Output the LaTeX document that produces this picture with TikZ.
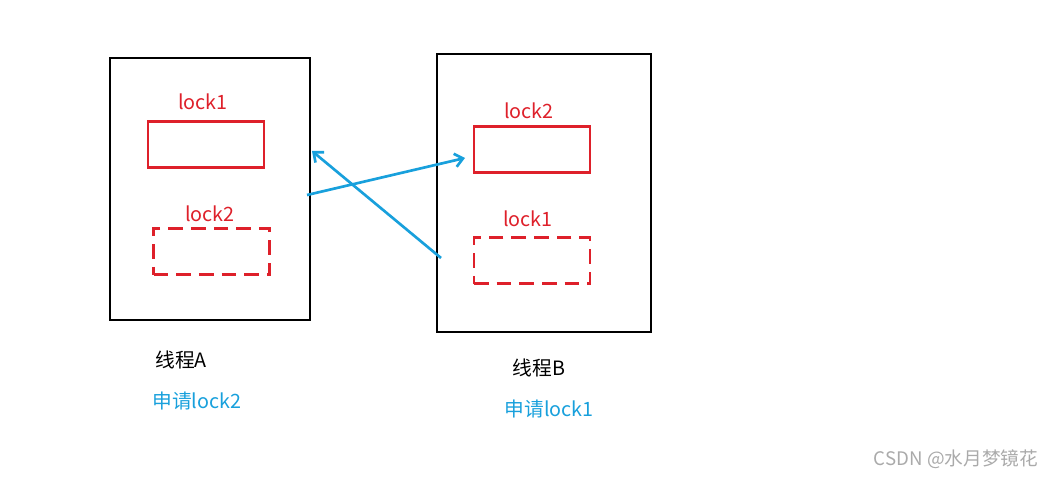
\documentclass[tikz,border=0pt]{standalone}
\usepackage{fontspec}
\setmainfont{Noto Sans CJK SC}
\usetikzlibrary{arrows.meta}
\definecolor{lockred}{RGB}{222,32,42}
\definecolor{arrblue}{RGB}{24,160,220}
\definecolor{wmgray}{RGB}{170,170,170}
\begin{document}
\begin{tikzpicture}[x=0.75pt,y=-0.75pt,
  thread/.style={draw=black,line width=2.1pt,inner sep=0pt},
  lockbox/.style={draw=lockred,line width=2.1pt,minimum width=87pt,minimum height=35pt,inner sep=0pt},
  waitbox/.style={lockbox,dash pattern=on 11pt off 6pt},
  locklbl/.style={text=lockred,font=\fontsize{14.8pt}{17pt}\selectfont,inner sep=0pt},
  thlbl/.style={text=black,font=\fontsize{14.8pt}{17pt}\selectfont,inner sep=0pt},
  reqlbl/.style={text=arrblue,font=\fontsize{14.8pt}{17pt}\selectfont,inner sep=0pt},
  conn/.style={draw=arrblue,line width=2pt,-{Straight Barb[length=6pt,width=10pt,line width=2pt]}}
]
\useasboundingbox (0,0) rectangle (1057,477);
% thread boxes
\draw[thread] (110,58) rectangle (310,320);
\draw[thread] (437,54) rectangle (651,332);
% thread A
\node[locklbl] (la1) at (203,102) {lock1};
\node[lockbox] (a1) at (206,144.5) {};
\node[locklbl] (la2) at (210,214) {lock2};
\node[waitbox] (a2) at (211.5,251.5) {};
% thread B
\node[locklbl] (lb2) at (529,111) {lock2};
\node[lockbox] (b2) at (532,149.5) {};
\node[locklbl] (lb1) at (528,219) {lock1};
\node[waitbox] (b1) at (532,260.5) {};
% arrows
\coordinate (sA) at (307,195);
\coordinate (eA) at (465,158);
\coordinate (sB) at (441,258);
\coordinate (eB) at (312,151);
\draw[conn] (sA) -- (eA);
\draw[conn] (sB) -- (eB);
% labels
\node[thlbl] (ta) at (181,360) {线程A};
\node[reqlbl] (ra) at (197,401) {申请lock2};
\node[thlbl] (tb) at (539,368) {线程B};
\node[reqlbl] (rb) at (549,409) {申请lock1};
\node[text=wmgray,font=\fontsize{14pt}{16pt}\selectfont,inner sep=0pt] (wm) at (956,459) {CSDN @水月梦镜花};
\end{tikzpicture}
\end{document}
